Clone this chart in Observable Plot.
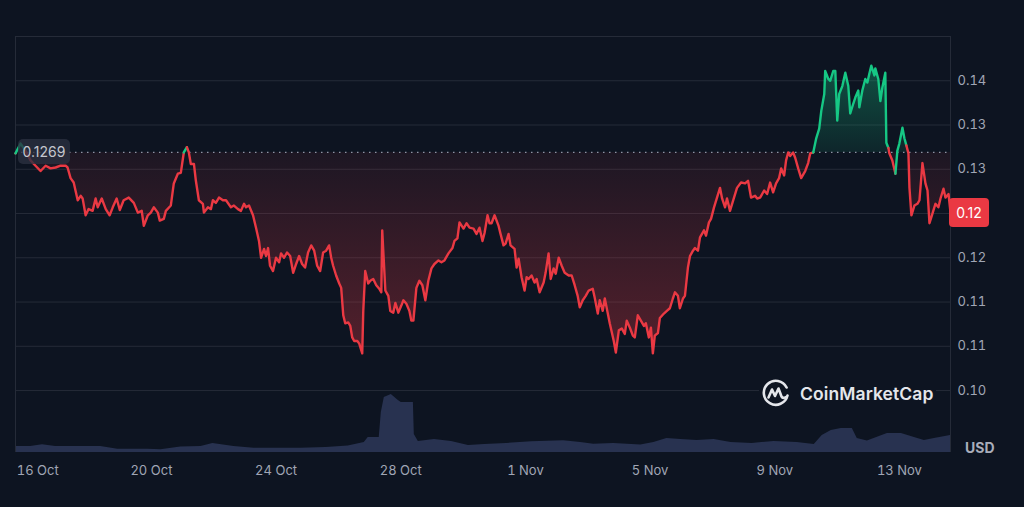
<!DOCTYPE html>
<html><head><meta charset="utf-8">
<script src="https://cdn.jsdelivr.net/npm/d3@7"></script>
<script src="https://cdn.jsdelivr.net/npm/@observablehq/plot@0.6"></script>
<style>
html,body{margin:0;padding:0;background:#0d1421;}
#chart{position:relative;width:1024px;height:507px;overflow:hidden;background:#0d1421;font-family:Inter,"Noto Sans",sans-serif;}
#chart svg{position:absolute;left:0;top:0;}
.tag{position:absolute;box-sizing:border-box;display:flex;align-items:center;justify-content:center;font-size:14px;}
</style></head><body><div id="chart"></div>
<script>
// ---- data ----
const startTime = Date.UTC(2023, 9, 15, 15, 20);
const spanHours = 720;
const hours = [0,3.9,7.7,11.6,15.4,19.3,23.2,27.0,30.9,34.7,38.6,40.1,42.4,44.8,47.9,50.2,51.7,54.0,56.3,59.4,61.7,63.3,66.4,69.5,72.5,74.9,77.9,80.3,83.3,87.2,91.1,94.2,97.2,98.8,101.9,104.2,106.5,109.6,111.1,114.2,115.8,119.6,121.9,125.0,127.3,129.6,132.0,133.5,135.0,137.4,138.9,141.2,144.3,145.1,148.2,150.5,152.0,154.3,156.7,159.7,162.1,165.9,168.2,171.3,173.6,176.0,177.5,179.8,182.9,185.2,187.5,189.1,191.4,192.9,194.5,196.0,198.3,200.6,203.0,204.5,206.8,209.1,211.5,213.8,216.1,218.4,220.7,223.0,225.3,227.7,230.0,232.3,234.6,236.9,239.2,241.5,243.1,244.6,246.9,249.3,250.8,252.4,253.9,256.2,257.8,259.3,260.8,263.2,264.7,267.0,267.8,269.3,271.6,273.2,275.5,277.8,280.1,281.7,282.4,283.2,284.8,287.1,288.6,290.9,292.5,294.8,297.1,298.7,301.0,303.3,304.8,306.4,308.7,311.0,313.3,315.6,317.9,320.3,322.6,325.7,328.0,330.3,333.4,336.5,338.0,340.3,341.9,345.0,347.3,349.6,352.7,355.0,357.3,359.6,361.2,363.5,365.0,366.6,368.9,372.0,373.5,375.8,377.4,379.7,381.2,384.3,385.9,387.4,389.7,392.0,393.6,395.1,397.4,399.7,401.3,403.6,406.7,408.2,410.5,412.1,414.4,416.0,418.3,420.6,422.9,426.0,428.3,430.6,432.9,434.5,436.8,439.1,441.4,444.5,446.0,448.4,449.9,452.2,453.8,456.1,457.6,460.7,462.3,464.6,466.9,469.2,470.7,473.1,475.4,476.9,479.2,480.8,483.9,485.4,487.7,489.3,490.8,492.3,494.7,496.2,499.3,501.6,503.9,506.2,507.8,510.1,511.6,514.0,515.5,517.8,519.4,521.7,523.2,525.5,527.1,530.2,531.7,534.0,535.6,537.9,540.2,542.5,544.1,546.4,547.9,550.2,553.3,555.6,558.7,561.8,564.1,566.4,569.5,571.1,573.4,576.5,578.8,581.1,583.4,585.7,588.0,589.6,591.9,593.4,595.0,596.5,598.8,600.4,602.7,605.0,608.1,610.4,612.0,614.3,616.6,618.9,620.5,622.8,623.5,625.9,627.4,629.7,631.3,632.8,634.3,636.7,639.0,641.3,642.8,645.1,646.7,649.0,649.8,652.1,654.4,656.0,657.5,659.0,661.4,662.1,664.4,666.0,667.5,669.8,670.6,672.2,672.9,675.2,677.6,679.1,680.6,683.0,684.5,686.0,687.6,688.4,689.9,692.2,694.5,696.1,698.4,700.7,702.3,703.8,706.1,708.4,710.7,712.3,714.6,716.1,718.5,720.0];
const prices = [0.1268,0.1279,0.1271,0.1260,0.1254,0.1248,0.1254,0.1251,0.1252,0.1254,0.1254,0.1252,0.1240,0.1235,0.1215,0.1220,0.1217,0.1198,0.1205,0.1203,0.1217,0.1207,0.1217,0.1205,0.1198,0.1207,0.1217,0.1204,0.1215,0.1218,0.1212,0.1201,0.1203,0.1186,0.1198,0.1201,0.1207,0.1201,0.1192,0.1194,0.1203,0.1209,0.1234,0.1245,0.1246,0.1269,0.1275,0.1269,0.1256,0.1256,0.1237,0.1215,0.1211,0.1201,0.1207,0.1205,0.1215,0.1212,0.1218,0.1215,0.1215,0.1207,0.1209,0.1205,0.1203,0.1211,0.1207,0.1209,0.1198,0.1184,0.1169,0.1150,0.1160,0.1152,0.1161,0.1141,0.1135,0.1150,0.1145,0.1155,0.1150,0.1156,0.1152,0.1133,0.1143,0.1152,0.1143,0.1139,0.1156,0.1164,0.1158,0.1141,0.1135,0.1156,0.1158,0.1164,0.1150,0.1141,0.1130,0.1121,0.1116,0.1085,0.1076,0.1077,0.1073,0.1060,0.1056,0.1056,0.1053,0.1042,0.1090,0.1135,0.1121,0.1124,0.1126,0.1119,0.1115,0.1111,0.1181,0.1158,0.1113,0.1107,0.1090,0.1088,0.1099,0.1088,0.1096,0.1102,0.1098,0.1090,0.1079,0.1079,0.1116,0.1124,0.1119,0.1102,0.1124,0.1138,0.1143,0.1147,0.1145,0.1147,0.1155,0.1161,0.1169,0.1172,0.1190,0.1183,0.1189,0.1184,0.1183,0.1177,0.1184,0.1169,0.1178,0.1198,0.1189,0.1189,0.1198,0.1186,0.1177,0.1164,0.1166,0.1177,0.1164,0.1160,0.1139,0.1149,0.1128,0.1113,0.1128,0.1126,0.1130,0.1122,0.1126,0.1111,0.1122,0.1133,0.1155,0.1126,0.1138,0.1132,0.1150,0.1141,0.1133,0.1130,0.1130,0.1119,0.1107,0.1094,0.1102,0.1107,0.1113,0.1115,0.1105,0.1087,0.1102,0.1090,0.1104,0.1087,0.1076,0.1056,0.1043,0.1068,0.1070,0.1064,0.1079,0.1071,0.1062,0.1060,0.1085,0.1081,0.1073,0.1076,0.1060,0.1071,0.1042,0.1062,0.1065,0.1082,0.1087,0.1090,0.1093,0.1104,0.1111,0.1107,0.1093,0.1104,0.1107,0.1139,0.1152,0.1158,0.1161,0.1158,0.1173,0.1181,0.1175,0.1190,0.1194,0.1207,0.1218,0.1229,0.1217,0.1207,0.1217,0.1203,0.1218,0.1229,0.1235,0.1234,0.1237,0.1218,0.1220,0.1217,0.1218,0.1226,0.1222,0.1235,0.1224,0.1234,0.1240,0.1251,0.1243,0.1260,0.1269,0.1265,0.1269,0.1263,0.1251,0.1240,0.1248,0.1257,0.1268,0.1269,0.1285,0.1296,0.1316,0.1335,0.1361,0.1352,0.1350,0.1361,0.1361,0.1305,0.1335,0.1344,0.1359,0.1344,0.1313,0.1324,0.1331,0.1339,0.1320,0.1339,0.1352,0.1348,0.1358,0.1367,0.1356,0.1364,0.1352,0.1327,0.1342,0.1359,0.1280,0.1274,0.1268,0.1260,0.1245,0.1271,0.1279,0.1297,0.1285,0.1277,0.1268,0.1229,0.1198,0.1209,0.1211,0.1215,0.1257,0.1234,0.1226,0.1189,0.1200,0.1211,0.1207,0.1217,0.1228,0.1218,0.1222,0.1201];
const volHours = [0,11.6,20.8,30.9,40.1,55.6,65.6,78.7,101.9,111.9,127.3,142.8,152.0,168.2,183.7,219.9,239.2,256.2,268.6,271.6,280.1,281.7,284.0,289.4,294.8,297.1,306.4,307.1,310.2,322.6,335.7,348.8,361.2,378.1,397.4,422.1,435.2,445.3,460.7,481.5,491.6,501.6,512.4,524.8,537.9,551.0,567.2,584.2,601.9,615.1,621.2,628.2,635.9,644.4,648.2,656.0,671.4,682.2,692.2,699.9,707.6,720.0];
const volumes = [6,6,7.7,6,6,6,6,3.3,3.3,2.7,5.5,6,9,6,4.3,4.3,5,6.5,10,15,15,40,55,58,52,50,50,18,11,13,11,7,8,9,10.7,11.7,10,8.3,9,7.5,10,14,13,12,13,10,9,11,10,8,17,22,24,24,14,11.5,19,19,15,12,14,17];
const referencePrice = 0.1269;
const yTicks = [0.100, 0.105, 0.110, 0.115, 0.120, 0.125, 0.130, 0.135];
const yTickLabels = ["0.10", "0.11", "0.11", "0.12", "0.12", "0.13", "0.13", "0.14"];
const yTop = 0.140;
const xTickDates = ["2023-10-16", "2023-10-20", "2023-10-24", "2023-10-28", "2023-11-01", "2023-11-05", "2023-11-09", "2023-11-13"];
const priceLabel = "0.1269";
const currentLabel = "0.12";
const unitLabel = "USD";
const brand = "CoinMarketCap";

// ---- build ----
const RED = "#ea3943", GREEN = "#16c784", GRID = "#252b38", TXT = "#a0a6b5";
const W = 1024, H = 507, ML = 15, MR = 74, MT = 36, MB = 55;
const t0 = new Date(startTime), t1 = new Date(startTime + spanHours * 3600e3);
const data = hours.map((h, i) => ({t: new Date(startTime + h * 3600e3), p: prices[i]}));
const vol = volHours.map((h, i) => ({t: new Date(startTime + h * 3600e3), v: volumes[i]}));
const base = referencePrice;
const last = prices[prices.length - 1];
let seg = 0; const lineRows = [];
data.forEach((d, i) => {
  const up = d.p > base;
  if (i > 0 && up !== (data[i - 1].p > base)) { seg++; lineRows.push({...data[i - 1], seg, col: up ? GREEN : RED}); }
  lineRows.push({...d, seg, col: up ? GREEN : RED});
});
const xTicks = xTickDates.map(s => new Date(s + "T00:00:00Z"));
const fmt = d3.utcFormat("%-d %b");
// the tick label lying under the current-price badge is covered in the original
const shownYTicks = yTicks.filter(v => Math.abs(v - last) > 0.0015);

const defs = () => {
  const g = d3.create("svg:defs");
  const r = g.append("linearGradient").attr("id", "redGrad").attr("x1", 0).attr("y1", 0).attr("x2", 0).attr("y2", 1);
  r.append("stop").attr("offset", 0).attr("stop-color", RED).attr("stop-opacity", 0.07);
  r.append("stop").attr("offset", 1).attr("stop-color", RED).attr("stop-opacity", 0.32);
  const gr = g.append("linearGradient").attr("id", "greenGrad").attr("x1", 0).attr("y1", 0).attr("x2", 0).attr("y2", 1);
  gr.append("stop").attr("offset", 0).attr("stop-color", GREEN).attr("stop-opacity", 0.34);
  gr.append("stop").attr("offset", 1).attr("stop-color", GREEN).attr("stop-opacity", 0.10);
  return g.node();
};

const volPlot = Plot.plot({
  width: W, height: H, marginLeft: ML, marginRight: MR, marginTop: H - MB - 60, marginBottom: MB,
  style: {background: "transparent"},
  x: {type: "utc", domain: [t0, t1], axis: null},
  y: {domain: [0, 60], axis: null},
  marks: [Plot.areaY(vol, {x: "t", y: "v", fill: "#283250", curve: "linear"})]
});

const chart = Plot.plot({
  width: W, height: H, marginLeft: ML, marginRight: MR, marginTop: MT, marginBottom: MB,
  style: {background: "transparent", color: TXT, fontFamily: "Inter, 'Noto Sans', sans-serif", fontSize: "13px"},
  x: {type: "utc", domain: [t0, t1], axis: null, label: null},
  y: {domain: [0.1000 - 62 * 0.005 / 44.29, yTop], axis: null, label: null},
  color: {type: "identity"},
  marks: [
    defs,
    Plot.ruleY([...yTicks, yTop], {stroke: GRID, strokeWidth: 1}),
    Plot.ruleX([t0, t1], {stroke: GRID, strokeWidth: 1}),
    Plot.areaY(data, {x: "t", y1: base, y2: d => Math.min(d.p, base), fill: "url(#redGrad)"}),
    Plot.areaY(data, {x: "t", y1: base, y2: d => Math.max(d.p, base), fill: "url(#greenGrad)"}),
    Plot.ruleY([base], {stroke: "#8e95a6", strokeWidth: 1.2, strokeDasharray: "1.5,4.5"}),
    Plot.line(lineRows, {x: "t", y: "p", z: "seg", stroke: "col", strokeWidth: 2.4, strokeLinejoin: "round", strokeLinecap: "round"}),
    Plot.axisY(shownYTicks, {anchor: "right", label: null, tickSize: 0, tickPadding: 7, tickFormat: d => yTickLabels[yTicks.indexOf(d)], fill: TXT}),
    Plot.axisX(xTicks.slice(0, 1), {label: null, tickSize: 0, tickPadding: 13, tickFormat: fmt, textAnchor: "start", dx: -10, fill: TXT}),
    Plot.axisX(xTicks.slice(1), {label: null, tickSize: 0, tickPadding: 13, tickFormat: fmt, fill: TXT})
  ]
});

const root = document.getElementById("chart");
root.append(volPlot, chart);
const yS = chart.scale("y");

// reference price tag
const tag = document.createElement("div");
tag.className = "tag";
tag.textContent = priceLabel;
Object.assign(tag.style, {left: "18px", top: (yS.apply(base) - 12.5) + "px", width: "52px", height: "25px",
  background: "rgba(44,49,64,0.78)", color: "#c4c7cf", borderRadius: "5px"});
root.append(tag);

// current price badge
const badge = document.createElement("div");
badge.className = "tag";
badge.textContent = currentLabel;
Object.assign(badge.style, {left: "949px", top: (yS.apply(last) - 14.5) + "px", width: "40px", height: "29px",
  background: RED, color: "#ffffff", borderRadius: "4px"});
root.append(badge);

// unit
const unit = document.createElement("div");
unit.textContent = unitLabel;
Object.assign(unit.style, {position: "absolute", left: "965px", top: "439px", fontSize: "14px", fontWeight: "700", color: "#a9aebb"});
root.append(unit);

// brand
const logo = document.createElement("div");
Object.assign(logo.style, {position: "absolute", left: "759px", top: "378px", height: "30px", padding: "0 2px",
  display: "flex", alignItems: "center", background: "#0d1421", color: "#e4e6eb"});
logo.innerHTML = `<svg width="30" height="30" viewBox="0 0 30 30" style="position:static;margin-right:9px">
<path d="M26.5 17.5 A12 12 0 1 1 25.6 9.5" fill="none" stroke="#e4e6eb" stroke-width="2.6" stroke-linecap="round"/>
<path d="M7.5 19.5 L11 11.5 L14 18 L17.5 10.5 L20.5 18.5 Q22 21 25 19" fill="none" stroke="#e4e6eb" stroke-width="2.6" stroke-linecap="round" stroke-linejoin="round"/>
</svg><span style="font-size:17.5px;font-weight:600;letter-spacing:0.1px">${brand}</span>`;
root.append(logo);
</script></body></html>
